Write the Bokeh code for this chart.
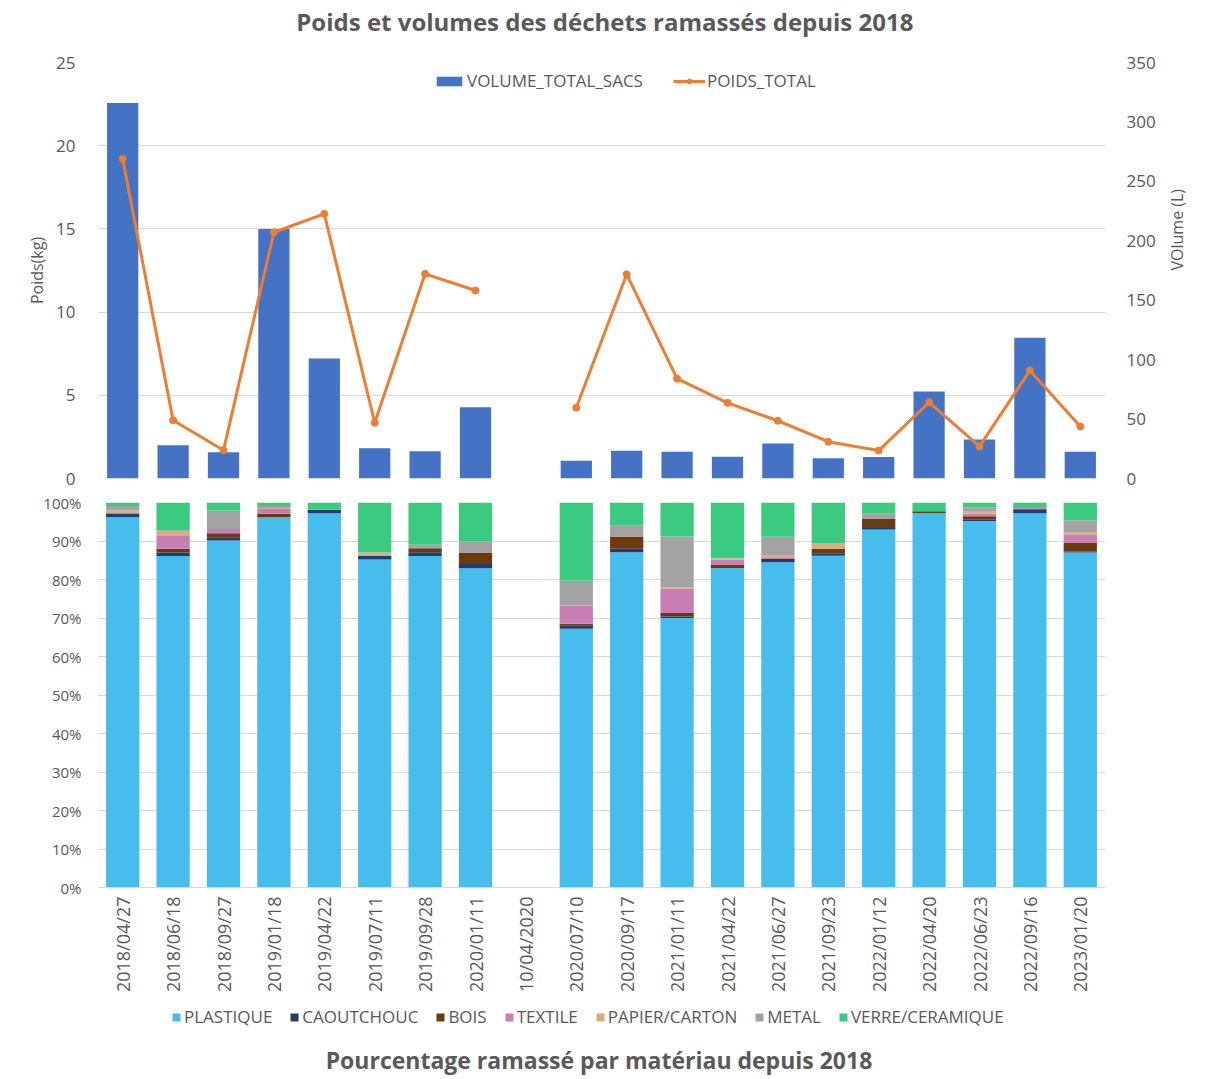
import math
from bokeh.plotting import figure
from bokeh.layouts import column
from bokeh.models import (Range1d, LinearAxis, Legend, LegendItem, Label,
                          FixedTicker, PrintfTickFormatter, FactorRange)
from bokeh.embed import file_html
from bokeh.resources import INLINE

dates = ["2018/04/27", "2018/06/18", "2018/09/27", "2019/01/18", "2019/04/22",
         "2019/07/11", "2019/09/28", "2020/01/11", "10/04/2020", "2020/07/10",
         "2020/09/17", "2021/01/11", "2021/04/22", "2021/06/27", "2021/09/23",
         "2022/01/12", "2022/04/20", "2022/06/23", "2022/09/16", "2023/01/20"]

volume_total_sacs = [316, 28, 22, 210, 101, 25.5, 23, 60, 0, 15,
                     23.3, 22.5, 18.3, 29.5, 17.1, 18, 73.1, 32.9, 118.4, 22.5]
poids_total = [19.2, 3.5, 1.7, 14.8, 15.9, 3.35, 12.3, 11.3, float("nan"), 4.25,
               12.27, 6.0, 4.55, 3.47, 2.21, 1.68, 4.58, 1.93, 6.49, 3.13]

plastique =   [96.2, 86.1, 90.1, 96.2, 97.2, 85.2, 86.1, 82.9, 0, 67.2,
               87.1, 70.0, 83.0, 84.5, 86.2, 93.0, 97.3, 95.2, 97.2, 87.0]
caoutchouc =  [0.8, 0.9, 0.9, 0.0, 0.9, 0.9, 1.0, 1.1, 0, 0.8,
               0.9, 0.4, 0.0, 0.8, 0.6, 0.4, 0.0, 0.3, 0.9, 0.3]
bois =        [0.0, 1.0, 1.0, 0.9, 0.0, 0.0, 1.0, 2.9, 0, 0.5,
               3.2, 0.9, 0.9, 0.0, 1.1, 2.3, 0.4, 0.9, 0.3, 2.3]
textile =     [0.3, 3.5, 1.1, 1.2, 0.0, 0.0, 0.0, 0.0, 0, 4.7,
               0.0, 6.3, 1.3, 0.5, 0.0, 0.0, 0.0, 0.7, 0.4, 2.0]
papier =      [0.6, 0.9, 0.0, 0.2, 0.0, 0.9, 0.0, 0.0, 0, 0.2,
               0.0, 0.3, 0.3, 0.4, 1.5, 0.0, 0.0, 0.7, 0.0, 0.6]
metal =       [1.2, 0.4, 4.8, 0.6, 0.0, 0.0, 0.9, 3.0, 0, 6.3,
               2.9, 13.3, 0.0, 4.9, 0.0, 1.5, 0.0, 0.9, 0.0, 3.2]
verre =       [0.9, 7.2, 2.1, 0.9, 1.9, 13.0, 11.0, 10.1, 0, 20.3,
               5.9, 8.8, 14.5, 8.9, 10.6, 2.8, 2.3, 1.3, 1.2, 4.6]

materials = ["PLASTIQUE", "CAOUTCHOUC", "BOIS", "TEXTILE", "PAPIER/CARTON", "METAL", "VERRE/CERAMIQUE"]
mat_colors = ["#47BDEE", "#1F3D6E", "#6B3A0E", "#C97DB6", "#D8AD80", "#A3A3A3", "#3BCB80"]

top_title = "Poids et volumes des déchets ramassés depuis 2018"
bottom_title = "Pourcentage ramassé par matériau depuis 2018"

FONT = "Open Sans"
GRAY = "#595959"
GRID = "#D9D9D9"
W = 1204


def style_axis(ax, size="17px", standoff=18):
    ax.axis_line_color = None
    ax.major_tick_line_color = None
    ax.minor_tick_line_color = None
    ax.major_label_text_font = FONT
    ax.major_label_text_font_size = size
    ax.major_label_text_color = GRAY
    ax.major_label_standoff = standoff
    ax.axis_label_text_font = FONT
    ax.axis_label_text_font_size = "16px"
    ax.axis_label_text_font_style = "normal"
    ax.axis_label_text_color = GRAY


def strip(height):
    f = figure(x_range=Range1d(0, W), y_range=Range1d(0, height), width=W, height=height,
               output_backend="svg", toolbar_location=None, title_location=None,
               x_axis_location=None, y_axis_location=None,
               min_border=0, min_border_left=0, min_border_right=0,
               min_border_top=0, min_border_bottom=0)
    f.outline_line_color = None
    f.grid.visible = False
    return f


# ---------------- title strip ----------------
H1 = 42
tfig = strip(H1)
tfig.add_layout(Label(x=606, y=H1 - 21, text=top_title,
                      text_align="center", text_baseline="middle",
                      text_font=FONT, text_font_size="24px", text_font_style="bold",
                      text_color=GRAY))

# ---------------- top chart ----------------
top = figure(x_range=FactorRange(*dates, range_padding=0), y_range=Range1d(0, 25),
             width=W, height=448, output_backend="svg", toolbar_location=None,
             title_location=None,
             min_border_left=97, min_border_right=99, min_border_top=20, min_border_bottom=12)
top.outline_line_color = None
top.xaxis.visible = False
top.xgrid.grid_line_color = None
top.ygrid.grid_line_color = GRID
top.ygrid.ticker = FixedTicker(ticks=[0, 5, 10, 15, 20, 25])
top.yaxis.ticker = FixedTicker(ticks=[0, 5, 10, 15, 20, 25])
top.yaxis.axis_label = "Poids(kg)"
style_axis(top.yaxis[0], standoff=16)
top.yaxis[0].axis_label_standoff = 5

top.extra_y_ranges = {"vol": Range1d(0, 350)}
rax = LinearAxis(y_range_name="vol", axis_label="VOlume (L)",
                 ticker=FixedTicker(ticks=[0, 50, 100, 150, 200, 250, 300, 350]))
style_axis(rax, standoff=15)
rax.axis_label_standoff = 18
try:
    rax.axis_label_orientation = math.pi / 2
except Exception:
    pass
top.add_layout(rax, "right")

vb = top.vbar(x=dates, top=volume_total_sacs, width=0.62, y_range_name="vol",
              fill_color="#4472C4", line_color=None)
ln = top.line(x=dates, y=poids_total, line_color="#ED7D31", line_width=3)
sc = top.scatter(x=dates, y=poids_total, size=7, fill_color="#ED7D31", line_color="#ED7D31")

tleg = Legend(items=[LegendItem(label="VOLUME_TOTAL_SACS", renderers=[vb]),
                     LegendItem(label="POIDS_TOTAL", renderers=[ln, sc])],
              orientation="horizontal", location=(336, 386),
              background_fill_alpha=0, border_line_color=None,
              label_text_font=FONT, label_text_font_size="17px", label_text_color=GRAY,
              glyph_width=32, glyph_height=12, spacing=30, padding=4, label_standoff=2)
top.add_layout(tleg)

# ---------------- bottom chart ----------------
bot = figure(x_range=FactorRange(*dates, range_padding=0), y_range=Range1d(0, 100),
             width=W, height=510, output_backend="svg", toolbar_location=None,
             title_location=None,
             min_border_left=97, min_border_right=99, min_border_top=12, min_border_bottom=113)
bot.outline_line_color = None
bot.xgrid.grid_line_color = None
bot.ygrid.grid_line_color = GRID
ticks = list(range(0, 101, 10))
bot.ygrid.ticker = FixedTicker(ticks=ticks)
bot.yaxis.ticker = FixedTicker(ticks=ticks)
bot.yaxis.formatter = PrintfTickFormatter(format="%d%%")
style_axis(bot.yaxis[0], size="15px", standoff=10)
xa = bot.xaxis[0]
style_axis(xa, size="18px", standoff=3)
xa.axis_line_color = GRID
xa.major_label_orientation = math.pi / 2

data = {"dates": dates}
keys = ["plastique", "caoutchouc", "bois", "textile", "papier", "metal", "verre"]
for k, arr in zip(keys, [plastique, caoutchouc, bois, textile, papier, metal, verre]):
    data[k] = arr
rs = bot.vbar_stack(keys, x="dates", width=0.66, color=mat_colors, line_color=None, source=data)

# ---------------- legend + title strip ----------------
H3 = 75
leg = strip(H3)
# legend-only placeholder glyphs (zero height, outside the visible range)
dummies = [leg.vbar(x=[-100], top=[0], width=1, fill_color=c, line_color=None) for c in mat_colors]
bleg = Legend(items=[LegendItem(label=m, renderers=[r]) for m, r in zip(materials, dummies)],
              orientation="horizontal", location=(74, 47),
              background_fill_alpha=0, border_line_color=None,
              label_text_font=FONT, label_text_font_size="17px", label_text_color=GRAY,
              glyph_width=10, glyph_height=10, spacing=17, padding=4, label_standoff=3)
leg.add_layout(bleg)
leg.add_layout(Label(x=599, y=H3 - 59, text=bottom_title,
                     text_align="center", text_baseline="middle",
                     text_font=FONT, text_font_size="23px", text_font_style="bold",
                     text_color=GRAY))

page = column(tfig, top, bot, leg, spacing=0)
open("out.html", "w").write(file_html(page, INLINE))
